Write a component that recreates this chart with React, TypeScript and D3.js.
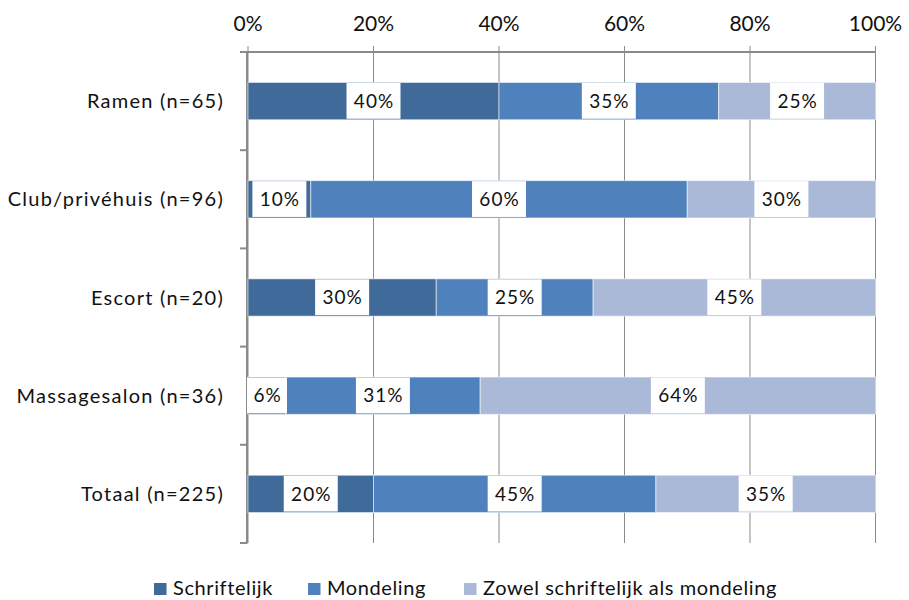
import React from "react";
import * as d3 from "d3";

const categories = ["Ramen (n=65)", "Club/privéhuis (n=96)", "Escort (n=20)", "Massagesalon (n=36)", "Totaal (n=225)"];
const seriesNames = ["Schriftelijk", "Mondeling", "Zowel schriftelijk als mondeling"];
const schriftelijk = [40, 10, 30, 6, 20];
const mondeling = [35, 60, 25, 31, 45];
const zowel = [25, 30, 45, 64, 35];
const xTicks = [0, 20, 40, 60, 80, 100];
const colors = ["#3f6a9a", "#4f81bd", "#aab9d7"];

const W = 909;
const H = 600;
const FONT = "Lato, Carlito, Calibri, sans-serif";

export default function App() {
  const x = d3.scaleLinear().domain([0, 100]).range([248, 875.5]);
  const y = d3.scaleBand<string>().domain(categories).range([52, 543]).paddingInner(0.62).paddingOuter(0.31);
  const yOuter = d3.scaleBand<string>().domain(categories).range([52, 543]);
  const series = [schriftelijk, mondeling, zowel];
  const stacked = categories.map((c, i) => {
    let acc = 0;
    return series.map((s, k) => {
      const v0 = acc;
      acc += s[i];
      return { k, v0, v1: Math.min(acc, 100), v: s[i] };
    });
  });
  const axisColor = "#8a8a8a";
  const legendX = [154, 308, 464];

  return (
    <svg width={W} height={H} style={{ position: "absolute", left: 0, top: 0, background: "#fff" }} fontFamily={FONT}>
      {/* gridlines */}
      {xTicks.map((t) => (
        <line key={"g" + t} x1={x(t)} x2={x(t)} y1={46} y2={543} stroke={axisColor} strokeWidth={1} />
      ))}
      {/* top axis */}
      <line x1={240} x2={x(100) + 0.5} y1={52} y2={52} stroke={axisColor} strokeWidth={2} />
      {xTicks.map((t) => (
        <text key={"t" + t} x={x(t)} y={31} textAnchor="middle" fontSize={21} fill="#111">
          {t}%
        </text>
      ))}
      {/* left axis */}
      <line x1={247} x2={247} y1={52} y2={543.5} stroke={axisColor} strokeWidth={2} />
      {categories.map((c, i) => (
        <line key={"yt" + i} x1={240} x2={247} y1={yOuter(c)! + yOuter.step()} y2={yOuter(c)! + yOuter.step()} stroke={axisColor} strokeWidth={2} />
      ))}
      {categories.map((c) => (
        <text key={"c" + c} x={224} y={y(c)! + y.bandwidth() / 2} dy="0.35em" textAnchor="end" fontSize={20} letterSpacing={1.25} fill="#111">
          {c}
        </text>
      ))}
      {/* bars */}
      {categories.map((c, i) =>
        stacked[i].map((seg) => (
          <rect
            key={c + seg.k}
            x={x(seg.v0)}
            y={y(c)}
            width={x(seg.v1) - x(seg.v0)}
            height={y.bandwidth()}
            fill={colors[seg.k]}
            stroke="rgba(255,255,255,0.55)"
            strokeWidth={1}
          />
        ))
      )}
      {/* data labels */}
      {categories.map((c, i) =>
        stacked[i].map((seg) => {
          const cx = x((seg.v0 + seg.v1) / 2);
          const label = seg.v + "%";
          const bw = label.length === 2 ? 40 : 54;
          const bx = Math.max(247, cx - bw / 2);
          const cy = y(c)! + y.bandwidth() / 2;
          return (
            <g key={"l" + c + seg.k}>
              <rect x={bx} y={y(c)! + 0.5} width={bw} height={y.bandwidth() - 1.5} fill="#fff" />
              <text x={bx + bw / 2 + 0.5} y={cy} dy="0.35em" textAnchor="middle" fontSize={19} letterSpacing={1} fill="#111">
                {label}
              </text>
            </g>
          );
        })
      )}
      {/* legend */}
      {seriesNames.map((s, k) => (
        <g key={"lg" + s}>
          <rect x={legendX[k]} y={583} width={12.5} height={12} fill={colors[k]} />
          <text x={legendX[k] + 19} y={595} fontSize={20} letterSpacing={0.6} fill="#111">
            {s}
          </text>
        </g>
      ))}
    </svg>
  );
}
